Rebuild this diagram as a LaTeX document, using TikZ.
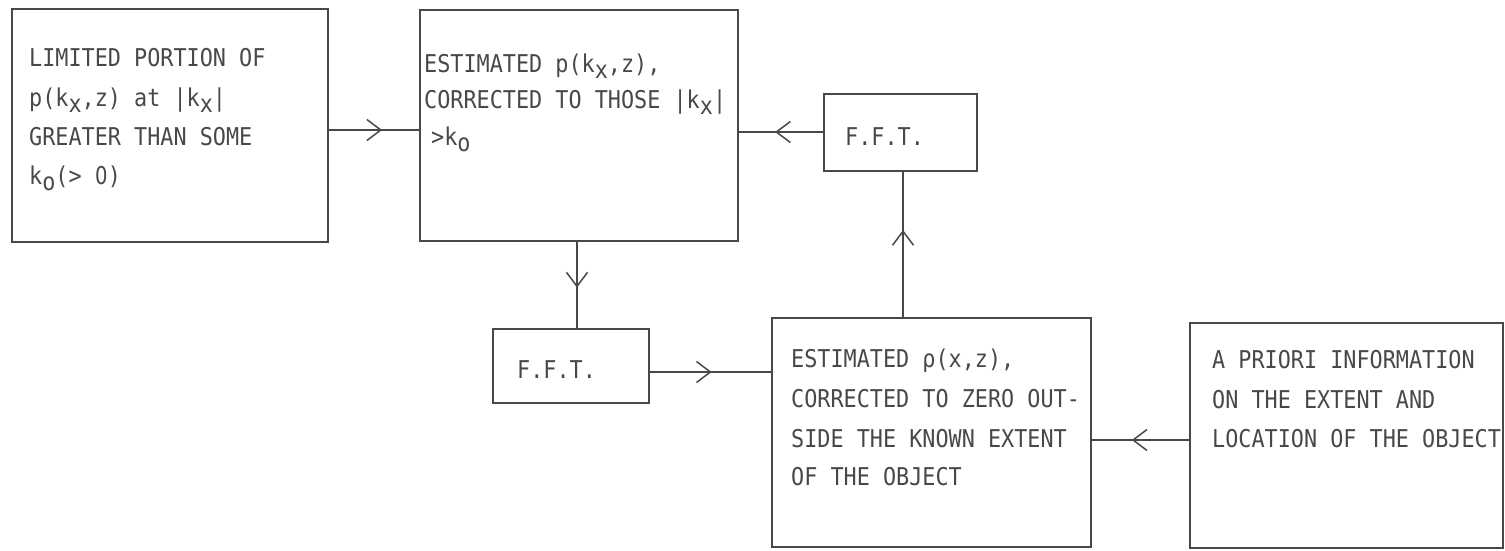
\documentclass[tikz,border=0pt]{standalone}
\usepackage{fontspec}
\newfontfamily\tw[FakeStretch=0.89]{DejaVu Sans Mono}
\newfontfamily\twz[FakeStretch=0.80]{DejaVu Sans}
\usetikzlibrary{arrows.meta,decorations.markings}
\definecolor{ink}{RGB}{72,72,72}
\newcommand{\sbx}[1]{\raisebox{-6pt}{#1}}
\newcommand{\zro}{\makebox[13.1pt]{\twz 0}}
\begin{document}
\begin{tikzpicture}[x=1pt,y=-1pt,
  box/.style={draw=ink,line width=1.8pt,inner sep=0pt},
  lbl/.style={anchor=base west,inner sep=0pt,text=ink,font=\tw\fontsize{24.5}{30}\selectfont},
  conn/.style={draw=ink,color=ink,line width=1.6pt},
  barb/.style={postaction={decorate,decoration={markings,
     mark=at position #1 with {\arrow{Straight Barb[length=14pt,width=21pt,line width=1.5pt]}}}}}
]
\useasboundingbox (0,0) rectangle (1505,550);

% boxes
\node[box,minimum width=316pt,minimum height=233pt] (A) at (170,125.5) {};
\node[box,minimum width=318pt,minimum height=231pt] (B) at (579,125.5) {};
\node[box,minimum width=153pt,minimum height=77pt] (F1) at (900.5,132.5) {};
\node[box,minimum width=156pt,minimum height=74pt] (F2) at (571,366) {};
\node[box,minimum width=319pt,minimum height=229pt] (D) at (931.5,432.5) {};
\node[box,minimum width=313pt,minimum height=225pt] (E) at (1346.5,435.5) {};

% texts
\node[lbl] (A1) at (29,66.5) {LIMITED PORTION OF};
\node[lbl] (A2) at (29,106) {p(k\sbx{x},z) at |k\sbx{x}|};
\node[lbl] (A3) at (29,145) {GREATER THAN SOME};
\node[lbl] (A4) at (29,184) {k\sbx{o}(> \zro)};

\node[lbl] (B1) at (424,72) {ESTIMATED p(k\sbx{x},z),};
\node[lbl] (B2) at (424,108) {CORRECTED TO THOSE |k\sbx{x}|};
\node[lbl] (B3) at (431,145) {>k\sbx{o}};

\node[lbl] (F1t) at (845,145) {F.F.T.};
\node[lbl] (F2t) at (517,378) {F.F.T.};

\node[lbl] (D1) at (791,367) {ESTIMATED ρ(x,z),};
\node[lbl] (D2) at (791,407) {CORRECTED TO ZERO OUT-};
\node[lbl] (D3) at (791,447) {SIDE THE KNOWN EXTENT};
\node[lbl] (D4) at (791,485) {OF THE OBJECT};

\node[lbl] (E1) at (1212,368) {A PRIORI INFORMATION};
\node[lbl] (E2) at (1212,408) {ON THE EXTENT AND};
\node[lbl] (E3) at (1212,447) {LOCATION OF THE OBJECT};

% connector levels
\coordinate (yAB) at (0,130);
\coordinate (yFB) at (0,132);
\coordinate (xBF) at (577,0);
\coordinate (yFD) at (0,372);
\coordinate (xDF) at (903,0);
\coordinate (yED) at (0,440);

% connectors
\draw[conn,barb=0.59] (A.east |- yAB) -- (B.west |- yAB);
\draw[conn,barb=0.57] (F1.west |- yFB) -- (B.east |- yFB);
\draw[conn,barb=0.53] (B.south -| xBF) -- (F2.north -| xBF);
\draw[conn,barb=0.51] (F2.east |- yFD) -- (D.west |- yFD);
\draw[conn,barb=0.60] (D.north -| xDF) -- (F1.south -| xDF);
\draw[conn,barb=0.59] (E.west |- yED) -- (D.east |- yED);
\end{tikzpicture}
\end{document}
